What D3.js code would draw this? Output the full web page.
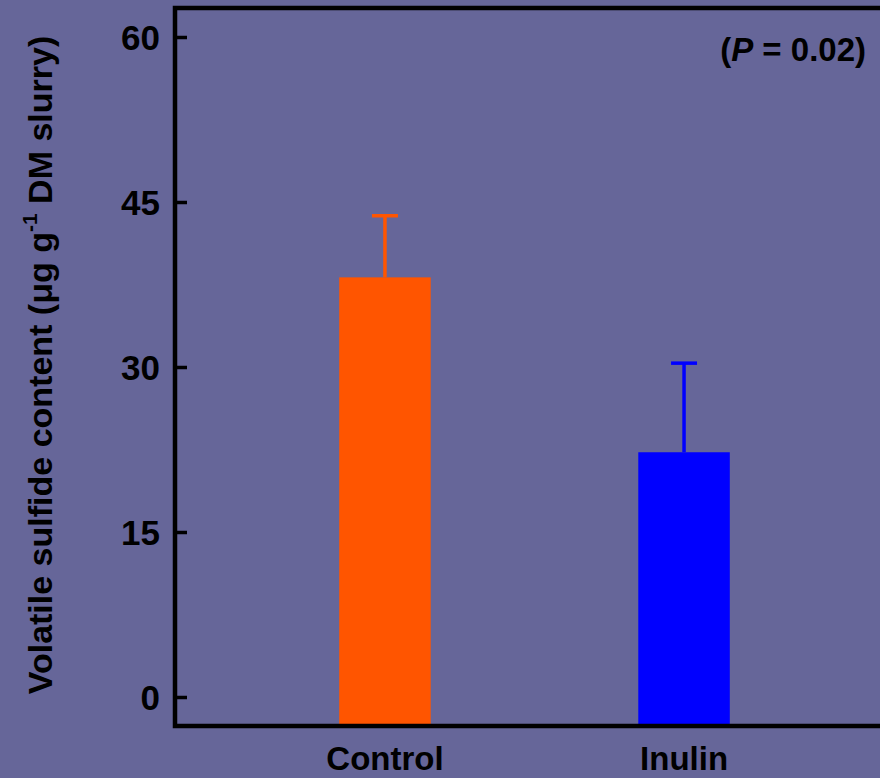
<!DOCTYPE html>
<html>
<head>
<meta charset="utf-8">
<script src="https://cdn.jsdelivr.net/npm/d3@7"></script>
<style>
  html, body { margin: 0; padding: 0; background: #666699; }
  svg { display: block; font-family: "Liberation Sans", Arial, sans-serif; font-weight: bold; }
</style>
</head>
<body>
<div id="chart"></div>
<script>
// 880 x 778

var categories = ["Control", "Inulin"];
var means      = [38.15, 22.25];
var errors     = [5.6, 8.1];
var barColors  = ["#ff5500", "#0000ff"];
var yTicks     = [0, 15, 30, 45, 60];

var width = 880, height = 778;
var frame = { left: 175, right: 894, top: 8, bottom: 726 };

var svg = d3.select('#chart').append('svg')
    .attr('width', width)
    .attr('height', height);

svg.append('rect')
    .attr('width', width)
    .attr('height', height)
    .attr('fill', '#666699');

var y = d3.scaleLinear()
    .domain([0, 60])
    .range([697, 37]);

var x = d3.scaleBand()
    .domain(categories)
    .range([frame.left, frame.right])
    .paddingInner(0.694)
    .paddingOuter(0.549);

var data = categories.map((c, i) => ({ name: c, mean: means[i], err: errors[i], color: barColors[i] }));

// barras (bajan hasta el eje inferior)
svg.selectAll('.bar')
    .data(data)
    .enter()
    .append('rect')
        .attr('class', 'bar')
        .attr('x', d => x(d.name))
        .attr('width', x.bandwidth())
        .attr('y', d => y(d.mean))
        .attr('height', d => frame.bottom - y(d.mean))
        .attr('fill', d => d.color);

// barras de error
var eb = svg.selectAll('.err')
    .data(data)
    .enter()
    .append('g')
        .attr('class', 'err');

eb.append('line')
    .attr('x1', d => x(d.name) + x.bandwidth() / 2)
    .attr('x2', d => x(d.name) + x.bandwidth() / 2)
    .attr('y1', d => y(d.mean))
    .attr('y2', d => y(d.mean + d.err))
    .attr('stroke', d => d.color)
    .attr('stroke-width', 3.5);

eb.append('line')
    .attr('x1', d => x(d.name) + x.bandwidth() / 2 - 13)
    .attr('x2', d => x(d.name) + x.bandwidth() / 2 + 13)
    .attr('y1', d => y(d.mean + d.err))
    .attr('y2', d => y(d.mean + d.err))
    .attr('stroke', d => d.color)
    .attr('stroke-width', 3.5);

// eje y
var yAxis = svg.append('g')
    .attr('transform', 'translate(' + frame.left + ',0)')
    .call(d3.axisLeft(y).tickValues(yTicks).tickSizeInner(-12).tickSizeOuter(0).tickPadding(15));

yAxis.select('.domain').remove();
yAxis.selectAll('.tick line')
    .attr('stroke', '#000')
    .attr('stroke-width', 3.5);
yAxis.selectAll('.tick text')
    .attr('fill', '#000')
    .attr('font-size', '35px')
    .attr('font-family', '"Liberation Sans", Arial, sans-serif')
    .attr('font-weight', 'bold')
    .attr('dy', '0.36em');

// eje x (solo etiquetas)
var xAxis = svg.append('g')
    .attr('transform', 'translate(0,' + frame.bottom + ')')
    .call(d3.axisBottom(x).tickSize(0).tickPadding(21));

xAxis.select('.domain').remove();
xAxis.selectAll('.tick text')
    .attr('fill', '#000')
    .attr('font-size', '33px')
    .attr('font-family', '"Liberation Sans", Arial, sans-serif')
    .attr('font-weight', 'bold');

// marco: izquierda, arriba, abajo
svg.append('path')
    .attr('d', 'M' + frame.right + ',' + frame.top + 'H' + frame.left + 'V' + frame.bottom + 'H' + frame.right)
    .attr('fill', 'none')
    .attr('stroke', '#000')
    .attr('stroke-width', 4.5);

// titulo eje y
var title = svg.append('text')
    .attr('transform', 'translate(52,365) rotate(-90)')
    .attr('text-anchor', 'middle')
    .attr('font-size', '34px')
    .attr('fill', '#000');

title.append('tspan').text('Volatile sulfide content (\u03bcg g');
title.append('tspan').attr('font-size', '21px').attr('dy', '-15').text('-1');
title.append('tspan').attr('dy', '15').text(' DM slurry)');

// valor P
var pLab = svg.append('text')
    .attr('x', 866)
    .attr('y', 61)
    .attr('text-anchor', 'end')
    .attr('font-size', '33px')
    .attr('fill', '#000');

pLab.append('tspan').text('(');
pLab.append('tspan').attr('font-style', 'italic').text('P');
pLab.append('tspan').text(' = 0.02)');
</script>
</body>
</html>
